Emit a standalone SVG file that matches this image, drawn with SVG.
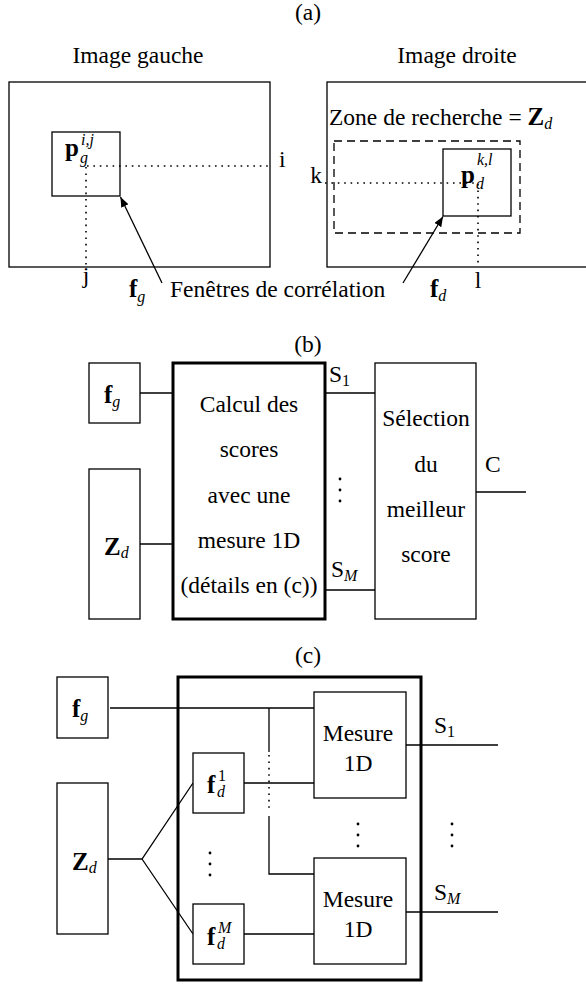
<svg xmlns="http://www.w3.org/2000/svg" width="586" height="985" viewBox="0 0 586 985">
<style>
text{font-family:'Liberation Serif','DejaVu Serif','Noto Serif',serif;font-size:23.5px;fill:#000}
.m{text-anchor:middle}
.b{font-weight:bold;font-size:25px}
.sub{font-size:16px;font-style:italic}
.num{font-size:16px}
.box{fill:#fff;stroke:#000;stroke-width:1.3}
.thick{fill:none;stroke:#000;stroke-width:3}
.ln{fill:none;stroke:#000;stroke-width:1.3}
.dot{fill:none;stroke:#000;stroke-width:1.6;stroke-dasharray:1.6 4.8}
.dash{fill:none;stroke:#000;stroke-width:1.3;stroke-dasharray:8 5}
.ell{fill:#000}
</style>
<defs>
<marker id="ah" markerUnits="userSpaceOnUse" markerWidth="12" markerHeight="10" refX="10" refY="4" orient="auto">
<path d="M0,0 L10,4 L0,8 z" fill="#000"/>
</marker>
</defs>

<g id="part-a">
<text class="m" x="308" y="20">(a)</text>
<text class="m" x="138" y="63">Image gauche</text>
<text class="m" x="457" y="63">Image droite</text>
<g id="image-gauche">
<rect class="box" x="9" y="82" width="261" height="185"/>
<rect class="box" x="52" y="132" width="68" height="64"/>
<text x="65" y="156"><tspan class="b">p</tspan></text>
<text class="sub" x="80" y="163">g</text>
<text class="sub" x="81" y="145">i,j</text>
<path class="dot" d="M87,166 H270 M86,167 V267"/>
<text x="279" y="167">i</text>
<text class="m" x="86" y="283">j</text>
</g>
<g id="image-droite">
<rect class="box" x="327" y="82" width="275" height="185"/>
<text x="329" y="125">Zone de recherche = <tspan class="b">Z</tspan><tspan class="sub" dy="4">d</tspan></text>
<rect class="dash" x="334" y="141" width="186" height="92"/>
<rect class="box" x="443" y="149" width="68" height="67" style="fill:none"/>
<path class="dot" d="M325,183 H478 M478,184 V267"/>
<text x="461" y="183"><tspan class="b">p</tspan></text>
<text class="sub" x="476" y="189">d</text>
<text class="sub" x="477" y="165">k,l</text>
<text class="m" x="316" y="183">k</text>
<text class="m" x="478" y="288">l</text>
</g>
<g id="fenetres-label">
<text x="129" y="297"><tspan class="b">f</tspan><tspan class="sub" dy="5">g</tspan></text>
<text x="170" y="297">Fenêtres de corrélation</text>
<text x="430" y="297"><tspan class="b">f</tspan><tspan class="sub" dy="4">d</tspan></text>
</g>
<g id="arrows-a">
<path class="ln" d="M162,283 L120.5,197" marker-end="url(#ah)"/>
<path class="ln" d="M403,283 L443,216.5" marker-end="url(#ah)"/>
</g>
</g>

<g id="part-b">
<text class="m" x="308" y="352">(b)</text>
<g id="b-connectors">
<path class="ln" d="M140,393 H173 M140,544 H173 M325,393 H375 M325,590 H375 M476,492 H526"/>
</g>
<g id="b-fg">
<rect class="box" x="89" y="363" width="51" height="60"/>
<text x="104" y="403"><tspan class="b">f</tspan><tspan class="sub" dy="4">g</tspan></text>
</g>
<g id="b-zd">
<rect class="box" x="89" y="469" width="51" height="150"/>
<text x="104" y="555"><tspan class="b">Z</tspan><tspan class="sub" dy="3">d</tspan></text>
</g>
<g id="b-calcul">
<rect class="thick" x="173" y="363" width="152" height="256"/>
<text class="m" x="249" y="412">Calcul des</text>
<text class="m" x="249" y="457">scores</text>
<text class="m" x="249" y="503">avec une</text>
<text class="m" x="249" y="548">mesure 1D</text>
<text class="m" x="249" y="593">(détails en (c))</text>
</g>
<g id="b-selection">
<rect class="box" x="375" y="363" width="101" height="256"/>
<text class="m" x="426" y="426">Sélection</text>
<text class="m" x="426" y="472">du</text>
<text class="m" x="426" y="517">meilleur</text>
<text class="m" x="426" y="562">score</text>
</g>
<g id="b-labels">
<text x="329" y="382">S<tspan class="num" dy="4">1</tspan></text>
<text x="331" y="577">S<tspan class="sub" dy="4">M</tspan></text>
<circle class="ell" cx="340" cy="479" r="1.4"/>
<circle class="ell" cx="340" cy="490" r="1.4"/>
<circle class="ell" cx="340" cy="501" r="1.4"/>
<text x="485" y="472">C</text>
</g>
</g>

<g id="part-c">
<text class="m" x="308" y="663">(c)</text>
<g id="c-connectors">
<path class="ln" d="M110,708 H314 M108,859 H142 L193,783 M142,859 L193,934 M244,783 H314 M244,934 H314"/>
<path class="ln" d="M269,708 V752 M269,816 V874 H314"/>
<path class="dot" d="M269,755 V812"/>
<path class="ln" d="M406,745 H498 M406,912 H498"/>
</g>
<g id="c-container">
<rect class="thick" x="178" y="677" width="243" height="303"/>
</g>
<g id="c-fg">
<rect class="box" x="57" y="677" width="51" height="61"/>
<text x="72" y="717"><tspan class="b">f</tspan><tspan class="sub" dy="4">g</tspan></text>
</g>
<g id="c-zd">
<rect class="box" x="57" y="783" width="51" height="151"/>
<text x="72" y="870"><tspan class="b">Z</tspan><tspan class="sub" dy="3">d</tspan></text>
</g>
<g id="c-fd1">
<rect class="box" x="193" y="753" width="51" height="60"/>
<text x="207" y="793"><tspan class="b">f</tspan></text>
<text class="num" x="218" y="781">1</text>
<text class="sub" x="217" y="797">d</text>
</g>
<g id="c-fdM">
<rect class="box" x="193" y="904" width="51" height="60"/>
<text x="207" y="945"><tspan class="b">f</tspan></text>
<text class="sub" x="218" y="933">M</text>
<text class="sub" x="217" y="949">d</text>
</g>
<g id="c-mesure1">
<rect class="box" x="314" y="692" width="92" height="106"/>
<text class="m" x="358" y="741">Mesure</text>
<text class="m" x="358" y="771">1D</text>
</g>
<g id="c-mesureM">
<rect class="box" x="314" y="858" width="92" height="106"/>
<text class="m" x="358" y="907">Mesure</text>
<text class="m" x="358" y="937">1D</text>
</g>
<g id="c-labels">
<text x="434" y="733">S<tspan class="num" dy="4">1</tspan></text>
<text x="434" y="900">S<tspan class="sub" dy="4">M</tspan></text>
<circle class="ell" cx="210" cy="853" r="1.4"/>
<circle class="ell" cx="210" cy="864" r="1.4"/>
<circle class="ell" cx="210" cy="875" r="1.4"/>
<circle class="ell" cx="358" cy="824" r="1.4"/>
<circle class="ell" cx="358" cy="835" r="1.4"/>
<circle class="ell" cx="358" cy="846" r="1.4"/>
<circle class="ell" cx="452" cy="824" r="1.4"/>
<circle class="ell" cx="452" cy="835" r="1.4"/>
<circle class="ell" cx="452" cy="846" r="1.4"/>
</g>
</g>
</svg>
